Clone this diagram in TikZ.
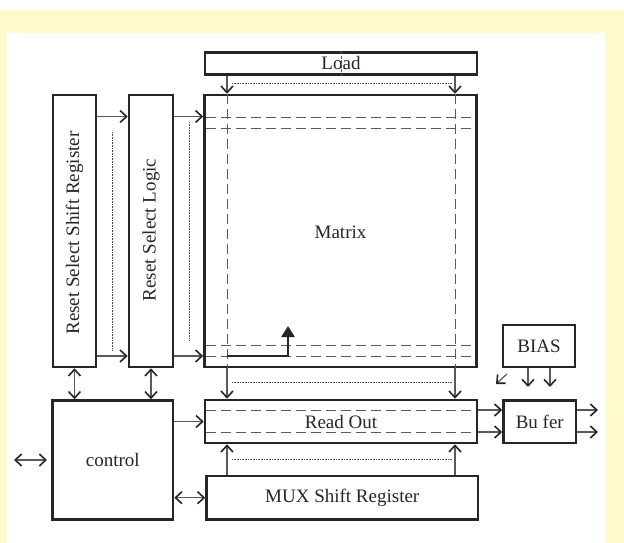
\documentclass[tikz,border=0pt]{standalone}
\usepackage{fontspec}
\setmainfont{Liberation Serif}
\usetikzlibrary{arrows.meta,calc}
\definecolor{bgyellow}{RGB}{255,250,205}
\definecolor{linegray}{RGB}{90,90,90}
\begin{document}
\begin{tikzpicture}[x=1pt,y=-1pt,
  box/.style={draw=black!85, line width=2.6pt, inner sep=0pt, font=\fontsize{19}{19}\selectfont, text=black!85},
  lbl/.style={inner sep=0pt, font=\fontsize{19}{19}\selectfont, text=black!85},
  arr/.style={draw=black!65, line width=1.2pt, -{Straight Barb[length=6.5pt,width=12pt,line width=1.6pt,color=black!85]}},
  darr/.style={draw=black!65, line width=1.2pt, {Straight Barb[length=6.5pt,width=12pt,line width=1.6pt,color=black!85]}-{Straight Barb[length=6.5pt,width=12pt,line width=1.6pt,color=black!85]}},
  dsh/.style={draw=linegray, line width=1pt, dash pattern=on 10pt off 5pt},
  dotl/.style={draw=black!70, line width=0.7pt, dash pattern=on 0.8pt off 0.8pt},
]
\useasboundingbox (0,0) rectangle (624,543);
\fill[white] (0,0) rectangle (624,543);
\fill[bgyellow] (0,10) rectangle (624,543);
\fill[white] (7,33) rectangle (605,543);

% coordinates for levels
\coordinate (xL) at (227,0);
\coordinate (xR) at (455,0);
\coordinate (y1) at (0,116.5);
\coordinate (y2) at (0,356);
\coordinate (yr) at (0,421.5);
\coordinate (yb1) at (0,410);
\coordinate (yb2) at (0,432);
\coordinate (ym) at (0,497.7);

% boxes
\node[box, minimum width=272pt, minimum height=22pt] (load) at (341,63.5) {};
\node[lbl] (loadt) at (341,63.5) {Load};
\node[box, minimum width=272pt, minimum height=272pt] (matrix) at (340.5,231) {};
\node[lbl] (matrixt) at (340.5,232) {Matrix};
\node[box, minimum width=43pt, minimum height=272pt] (rssr) at (74.5,231) {};
\node[lbl, rotate=90] (rssrt) at (74.5,233) {Reset Select Shift Register};
\node[box, minimum width=44pt, minimum height=272pt] (rsl) at (151,231) {};
\node[lbl, rotate=90] (rslt) at (151,230) {Reset Select Logic};
\node[box, minimum width=120.5pt, minimum height=119pt] (control) at (112.75,460) {control};
\node[box, minimum width=272pt, minimum height=43pt] (readout) at (341,421.5) {};
\node[lbl] (readoutt) at (341,421.5) {Read Out};
\node[box, minimum width=271.5pt, minimum height=43.5pt] (mux) at (342.25,497.75) {MUX Shift Register};
\node[box, minimum width=72pt, minimum height=42pt] (bias) at (539,346) {BIAS};
\node[box, minimum width=72.5pt, minimum height=42.5pt] (buffer) at (539.75,421.75) {Bu fer};

% thin mark through Load
\draw[draw=linegray, line width=0.5pt, dash pattern=on 3pt off 1.5pt] (load.north) -- (load.south);

% Load -> Matrix
\draw[arr] (load.south -| xL) -- (matrix.north -| xL);
\draw[arr] (load.south -| xR) -- (matrix.north -| xR);
\draw[dotl] (232,83.5) -- (452,83.5);

% matrix dashed grid
\draw[dsh] (matrix.north -| xL) -- (matrix.south -| xL);
\draw[dsh] (matrix.north -| xR) -- (matrix.south -| xR);
\draw[dsh] (206,117) -- (474,117);
\draw[dsh] (206,128) -- (474,128);
\draw[dsh] (206,345) -- (474,345);
\draw[dsh] (206,356) -- (474,356);

% row select arrows
\draw[arr] (rssr.east |- y1) -- (rsl.west |- y1);
\draw[arr] (rssr.east |- y2) -- (rsl.west |- y2);
\draw[arr] (rsl.east |- y1) -- (matrix.west |- y1);
\draw[arr] (rsl.east |- y2) -- (matrix.west |- y2);
\draw[dotl] (112.7,132) -- (112.7,350);
\draw[dotl] (189,122) -- (189,340);

% to control
\draw[darr] (rssr.south) -- (rssr.south |- control.north);
\draw[darr] (rsl.south) -- (rsl.south |- control.north);

% matrix -> read out
\draw[arr] (matrix.south -| xL) -- (readout.north -| xL);
\draw[arr] (matrix.south -| xR) -- (readout.north -| xR);
\draw[dotl] (232,382.7) -- (452,382.7);

% L-shaped thick arrow
\coordinate (ls) at (227,356);
\coordinate (lc) at (288,356);
\coordinate (le) at (288,326);
\draw[draw=black!85, line width=2.6pt, -{Triangle[length=11pt,width=13pt]}] (ls) -- (lc) -- (le);

% control -> read out
\draw[arr] (control.east |- yr) -- (readout.west |- yr);

% read out dashed
\draw[dsh] (206,410) -- (476,410);
\draw[dsh] (206,432) -- (476,432);

% read out -> buffer
\draw[arr] (readout.east |- yb1) -- (buffer.west |- yb1);
\draw[arr] (readout.east |- yb2) -- (buffer.west |- yb2);
\coordinate (o1) at (598,410);
\coordinate (o2) at (598,432);
\draw[arr] (buffer.east |- yb1) -- (o1);
\draw[arr] (buffer.east |- yb2) -- (o2);

% bias arrows
\coordinate (b1) at (528,387);
\coordinate (b2) at (550,387);
\draw[arr] (bias.south -| b1) -- (b1);
\draw[arr] (bias.south -| b2) -- (b2);
\coordinate (d1) at (507,374);
\coordinate (d2) at (496,384);
\draw[arr] (d1) -- (d2);

% mux -> read out
\draw[arr] (mux.north -| xL) -- (readout.south -| xL);
\draw[arr] (mux.north -| xR) -- (readout.south -| xR);
\draw[dotl] (232,459.3) -- (452,459.3);

% control <-> mux
\draw[darr] (control.east |- ym) -- (mux.west |- ym);

% external
\coordinate (e1) at (14,460);
\coordinate (e2) at (47,460);
\draw[darr] (e1) -- (e2);
\end{tikzpicture}
\end{document}
